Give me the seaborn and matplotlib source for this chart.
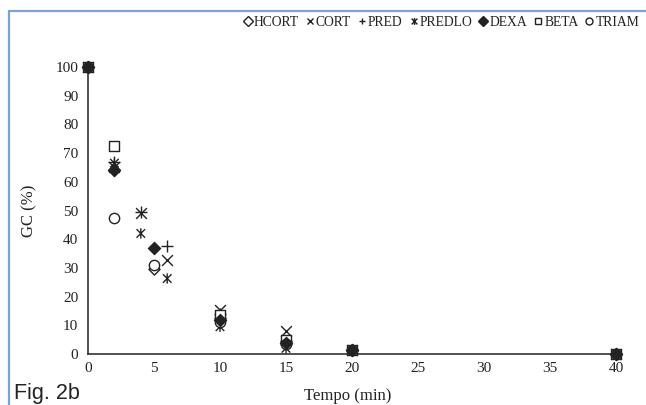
import matplotlib
matplotlib.use("Agg")
import matplotlib.pyplot as plt
from matplotlib.path import Path
from matplotlib.lines import Line2D
import seaborn as sns
import pandas as pd

# ---- data ----
t_a = [0, 2, 5, 10, 15, 20, 40]          # HCORT, DEXA, TRIAM
t_b = [0, 2, 4, 6, 10, 15, 20, 40]       # CORT, PRED, PREDLO
t_beta = [0, 2, 10, 15, 20, 40]

hcort = [100, 64, 29.5, 12.5, 4.5, 1.5, 0]
cort = [100, 65, 49, 32.8, 15.5, 8, 1.5, 0]
pred = [100, 67, 49.5, 37.8, 14, 4, 1.5, 0]
predlo = [100, 66.5, 42, 26.3, 9.5, 2, 1, 0]
dexa = [100, 64, 36.8, 12, 4, 1.5, 0]
beta = [100, 72.5, 13.5, 5, 1.5, 0]
triam = [100, 47.5, 31, 11, 3.5, 1.5, 0]

series_names = ["HCORT", "CORT", "PRED", "PREDLO", "DEXA", "BETA", "TRIAM"]
draw_order = ["HCORT", "CORT", "PRED", "PREDLO", "BETA", "TRIAM", "DEXA"]
x_ticks = [0, 5, 10, 15, 20, 25, 30, 35, 40]
y_ticks = [0, 10, 20, 30, 40, 50, 60, 70, 80, 90, 100]

# ---- style ----
sns.set_theme(style="white")
plt.rcParams["font.family"] = ["Liberation Serif", "DejaVu Serif"]
ink = "#222222"

star_path = Path(
    [(-1, -1), (1, 1), (-1, 1), (1, -1), (0, -1.2), (0, 1.2)],
    [Path.MOVETO, Path.LINETO, Path.MOVETO, Path.LINETO, Path.MOVETO, Path.LINETO],
)

styles = {
    "HCORT": dict(marker="D", s=32, facecolor="white", edgecolor=ink, linewidth=1.0),
    "CORT": dict(marker="x", s=60, color=ink, linewidth=1.0),
    "PRED": dict(marker="+", s=75, color=ink, linewidth=1.0),
    "PREDLO": dict(marker=star_path, s=55, facecolor="none", edgecolor=ink, linewidth=1.0),
    "DEXA": dict(marker="D", s=40, color=ink, edgecolor=ink, linewidth=0.8),
    "BETA": dict(marker="s", s=55, facecolor="white", edgecolor=ink, linewidth=1.0),
    "TRIAM": dict(marker="o", s=55, facecolor="white", edgecolor=ink, linewidth=1.0),
}

data = {
    "HCORT": (t_a, hcort),
    "CORT": (t_b, cort),
    "PRED": (t_b, pred),
    "PREDLO": (t_b, predlo),
    "DEXA": (t_a, dexa),
    "BETA": (t_beta, beta),
    "TRIAM": (t_a, triam),
}

fig = plt.figure(figsize=(6.46, 4.05), dpi=100)
ax = fig.add_axes([88 / 646, 1 - 354 / 405, (616 - 88) / 646, (354 - 67) / 405])

for name in draw_order:
    xs, ys = data[name]
    df = pd.DataFrame({"t": xs, "gc": ys})
    sns.scatterplot(data=df, x="t", y="gc", ax=ax, clip_on=False, zorder=3,
                    legend=False, **styles[name])

ax.set_xlim(0, 40)
ax.set_ylim(0, 100)
ax.set_xticks(x_ticks)
ax.set_yticks(y_ticks)
ax.tick_params(axis="both", labelsize=11, colors=ink, length=4, width=1, pad=3)
ax.tick_params(axis="x", direction="inout", length=6)
ax.tick_params(axis="y", direction="out")
for sp in ["top", "right"]:
    ax.spines[sp].set_visible(False)
for sp in ["left", "bottom"]:
    ax.spines[sp].set_color("#333333")
    ax.spines[sp].set_linewidth(1.2)
ax.set_xlabel("")
ax.set_ylabel("")
fig.text(348 / 646, 1 - 396 / 405, "Tempo (min)", ha="center", va="center",
         fontsize=12, color=ink)
fig.text(29 / 646, 1 - 211 / 405, "GC (%)", ha="center", va="center",
         rotation=90, fontsize=12, color=ink)

# legend
handles = []
for name in series_names:
    st = styles[name]
    mk = st["marker"]
    face = st.get("facecolor", st.get("color", ink))
    h = Line2D([], [], linestyle="none", marker=mk, markersize=5,
               markerfacecolor=face, markeredgecolor=ink, markeredgewidth=1.0,
               color=ink, label=name)
    handles.append(h)
fig.legend(handles=handles, loc="center right", bbox_to_anchor=(1.0, 1 - 22 / 405),
           ncol=7, frameon=False, fontsize=9.8, handlelength=0.7,
           handletextpad=0.1, columnspacing=0.45, borderaxespad=0.1,
           labelcolor=ink)

# frame lines of the figure panel
blue = "#7ba3cf"
fig.add_artist(Line2D([9 / 646, 9 / 646], [0, 1 - 10.5 / 405], color=blue, linewidth=1.6))
fig.add_artist(Line2D([9 / 646, 1], [1 - 10.5 / 405, 1 - 10.5 / 405], color=blue, linewidth=1.6))

fig.text(14 / 646, 1 - 399 / 405, "Fig. 2b", ha="left", va="baseline",
         fontsize=15.5, color="#222222", family=["Liberation Sans", "DejaVu Sans"])

fig.savefig("out.png", dpi=100, facecolor="white")
